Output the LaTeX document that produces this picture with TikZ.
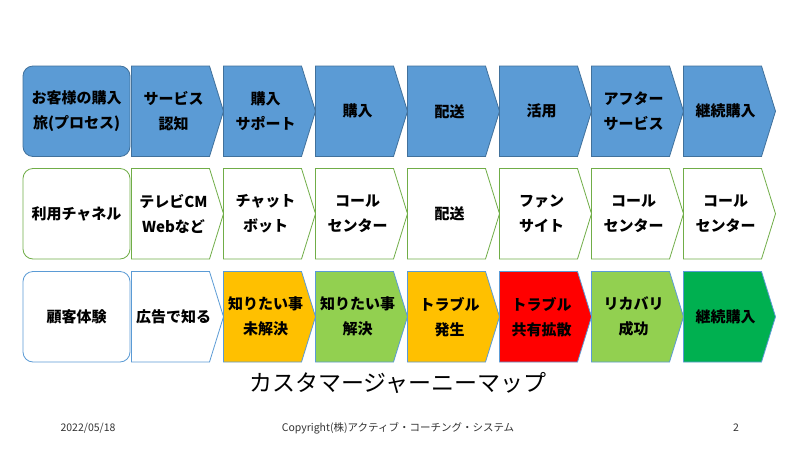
\documentclass[tikz,border=0pt]{standalone}
\usepackage{fontspec}
\setmainfont{Noto Sans CJK JP}
\definecolor{bluefill}{HTML}{5B9BD5}
\definecolor{bluedraw}{HTML}{41719C}
\definecolor{greendraw}{HTML}{70AD47}
\definecolor{lightblue}{HTML}{5B9BD5}
\definecolor{amber}{HTML}{FFC000}
\definecolor{lightgreen}{HTML}{92D050}
\definecolor{darkgreen}{HTML}{00B050}
\definecolor{redfill}{HTML}{FF0000}
\tikzset{
  lbl/.style={font=\fontsize{15}{25}\selectfont\bfseries, align=center, text=black, inner sep=0pt},
  shapeline/.style={line width=0.8pt},
}
\newcommand\chevbox[6]{%
  \path[shapeline, draw=#5, fill=#4] (#2,#3) -- ++(78,0) -- ++(14,45.25) -- ++(-14,45.25) -- ++(-78,0) -- cycle;
  \node[lbl] (#1) at ({#2+42},{#3+45.25}) {#6};}
\newcommand\headbox[5]{%
  \path[shapeline, draw=#4, fill=#3, rounded corners=10pt] (23,#2) rectangle (130,{#2+90.5});
  \node[lbl] (#1) at (76.5,{#2+45.25}) {#5};}
\begin{document}
\begin{tikzpicture}[x=1pt,y=-1pt]
\useasboundingbox[fill=white] (0,0) rectangle (800,450);
% row 1
\headbox{h1}{66}{bluefill}{bluedraw}{お客様の購入\\旅(プロセス)}
\chevbox{a2}{131.5}{66}{bluefill}{bluedraw}{サービス\\認知}
\chevbox{a3}{223.5}{66}{bluefill}{bluedraw}{購入\\サポート}
\chevbox{a4}{315.5}{66}{bluefill}{bluedraw}{購入}
\chevbox{a5}{407.5}{66}{bluefill}{bluedraw}{配送}
\chevbox{a6}{499.5}{66}{bluefill}{bluedraw}{活用}
\chevbox{a7}{591.5}{66}{bluefill}{bluedraw}{アフター\\サービス}
\chevbox{a8}{683.5}{66}{bluefill}{bluedraw}{継続購入}
% row 2
\headbox{h2}{168.5}{white}{greendraw}{利用チャネル}
\chevbox{b2}{131.5}{168.5}{white}{greendraw}{テレビCM\\Webなど}
\chevbox{b3}{223.5}{168.5}{white}{greendraw}{チャット\\ボット}
\chevbox{b4}{315.5}{168.5}{white}{greendraw}{コール\\センター}
\chevbox{b5}{407.5}{168.5}{white}{greendraw}{配送}
\chevbox{b6}{499.5}{168.5}{white}{greendraw}{ファン\\サイト}
\chevbox{b7}{591.5}{168.5}{white}{greendraw}{コール\\センター}
\chevbox{b8}{683.5}{168.5}{white}{greendraw}{コール\\センター}
% row 3
\headbox{h3}{271.5}{white}{lightblue}{顧客体験}
\chevbox{c2}{131.5}{271.5}{white}{lightblue}{広告で知る}
\chevbox{c3}{223.5}{271.5}{amber}{lightblue}{知りたい事\\未解決}
\chevbox{c4}{315.5}{271.5}{lightgreen}{lightblue}{知りたい事\\解決}
\chevbox{c5}{407.5}{271.5}{amber}{lightblue}{トラブル\\発生}
\chevbox{c6}{499.5}{271.5}{redfill}{lightblue}{トラブル\\共有拡散}
\chevbox{c7}{591.5}{271.5}{lightgreen}{lightblue}{リカバリ\\成功}
\chevbox{c8}{683.5}{271.5}{darkgreen}{lightblue}{継続購入}
% title and footer
\node[font=\fontsize{23}{23}\selectfont, inner sep=0pt] (title) at (398,383) {カスタマージャーニーマップ};
\node[font=\fontsize{10.5}{10.5}\selectfont, inner sep=0pt, text=black!80] (date) at (88,428) {2022/05/18};
\node[font=\fontsize{10.5}{10.5}\selectfont, inner sep=0pt, text=black!80] (copy) at (398,428) {Copyright(株)アクティブ・コーチング・システム};
\node[font=\fontsize{10.5}{10.5}\selectfont, inner sep=0pt, text=black!80] (page) at (736,428) {2};
\end{tikzpicture}
\end{document}
